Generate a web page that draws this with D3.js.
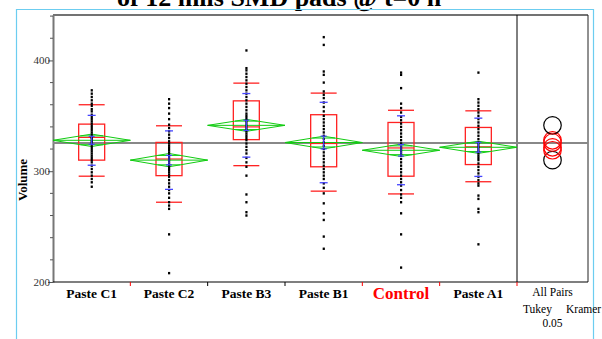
<!DOCTYPE html>
<html>
<head>
<meta charset="utf-8">
<script src="https://cdn.jsdelivr.net/npm/d3@7"></script>
<style>
  html, body { margin: 0; padding: 0; background: #fff; }
  svg { display: block; }
</style>
</head>
<body>
<div id="chart"></div>
<script>
// group names along the x axis
const groups = ["Paste C1", "Paste C2", "Paste B3", "Paste B1", "Control", "Paste A1"];

const volC1 = [373, 370, 367, 364, 361, 359, 356, 354, 351, 349, 347, 345, 343, 341, 339, 337, 335, 333, 331, 330, 329, 327, 326, 324, 322, 320, 318, 316, 314, 312, 310, 308, 305, 302, 299, 296, 293, 290, 286];
const volC2 = [365, 361, 357, 352, 347, 342, 339, 336, 333, 330, 327, 325, 323, 321, 319, 317, 315, 313, 311, 309, 307, 305, 303, 301, 299, 297, 295, 292, 289, 286, 283, 280, 276, 272, 269, 266, 243, 208];
const volB3 = [409, 393, 391, 388, 385, 382, 379, 376, 373, 370, 367, 364, 361, 358, 355, 352, 350, 348, 346, 344, 342, 340, 338, 336, 334, 332, 330, 328, 325, 322, 319, 316, 312, 308, 304, 296, 279, 272, 263, 260];
const volB1 = [421, 414, 390, 387, 380, 372, 369, 366, 362, 358, 354, 350, 347, 344, 341, 338, 335, 332, 329, 326, 323, 320, 317, 314, 311, 308, 305, 302, 299, 296, 293, 289, 285, 280, 271, 262, 256, 241, 230];
const volControl = [389, 387, 375, 361, 357, 353, 349, 346, 343, 340, 337, 334, 331, 328, 325, 322, 320, 318, 316, 314, 311, 308, 305, 302, 299, 296, 293, 290, 287, 283, 279, 276, 272, 262, 243, 213];
const volA1 = [389, 365, 362, 359, 356, 353, 350, 347, 344, 341, 338, 335, 332, 329, 326, 324, 322, 320, 318, 316, 314, 312, 310, 307, 304, 301, 298, 295, 292, 289, 287, 278, 275, 266, 263, 234];
const observations = [volC1, volC2, volB3, volB1, volControl, volA1];

// quantile summaries per group (10%, 25%, 50%, 75%, 90%)
const q10 = [295.5, 272, 305, 282, 279.5, 290.5];
const q25 = [310, 296, 328.5, 304, 295.5, 306];
const q50 = [330.5, 311, 340, 325, 321, 322];
const q75 = [342.5, 326, 363.5, 351, 344, 339.5];
const q90 = [360, 341, 379.5, 370.5, 355, 354.5];

// means, 95% CI half width, std dev, std error
const means = [327.9, 310, 341.4, 325.9, 318.9, 321.6];
const ciHalf = [5.6, 6, 5.4, 5.7, 5.6, 5.5];
const stdDev = [22.5, 26.4, 28.7, 36.3, 31.1, 26.3];
const stdErr = [3.6, 4.3, 4.6, 5.8, 5.2, 4.4];

// grand mean and Tukey-Kramer comparison circles
const grandMean = 325.4;
const circleRadius = [7.9, 7.9, 7.9, 7.9, 7.9, 7.9];
const circleSignif = [false, true, true, false, false, false];

const yTicks = [200, 300, 400];
const yMinorTicks = [220, 240, 260, 280, 320, 340, 360, 380, 420, 440];

const width = 602, height = 339;
const plotLeft = 53, plotRight = 517, circRight = 588, plotTop = 15, plotBottom = 282;

const svg = d3.select("#chart").append("svg")
  .attr("width", width)
  .attr("height", height)
  .style("font-family", "'Liberation Serif', 'Times New Roman', serif");

const x = d3.scaleBand().domain(groups).range([plotLeft, plotRight]).paddingInner(0).paddingOuter(0);
const y = d3.scaleLinear().domain([200, 441]).range([plotBottom, plotTop]);

// title (clipped at top of window)
svg.append("text")
  .attr("x", 117).attr("y", 6)
  .style("font-size", "26px").style("font-weight", "bold")
  .text("of 12 mils SMD pads @ t=0 h");

// outer light blue frame
svg.append("path")
  .attr("d", `M16.5,${height} V9.5 H593.5 V${height}`)
  .attr("fill", "none").attr("stroke", "#6ccdf0").attr("stroke-width", 1.2);

// frame lines
svg.append("line").attr("x1", plotLeft).attr("x2", circRight).attr("y1", plotTop).attr("y2", plotTop)
  .attr("stroke", "#444").attr("stroke-width", 1.5);
svg.append("line").attr("x1", circRight).attr("x2", circRight).attr("y1", plotTop).attr("y2", plotBottom)
  .attr("stroke", "#222").attr("stroke-width", 1);
svg.append("line").attr("x1", plotRight).attr("x2", plotRight).attr("y1", plotTop).attr("y2", plotBottom)
  .attr("stroke", "#000").attr("stroke-width", 1);

// y axis
const yAxis = svg.append("g").attr("transform", `translate(${plotLeft},0)`)
  .call(d3.axisLeft(y).tickValues(yTicks).tickSize(5).tickSizeOuter(0).tickFormat(d3.format("d")));
yAxis.select(".domain").attr("stroke", "#777").attr("stroke-width", 2);
yAxis.selectAll(".tick line").attr("stroke", "#555");
yAxis.selectAll(".tick text")
  .attr("x", -3)
  .style("font-family", "'Liberation Serif', serif")
  .style("font-size", "11px").attr("fill", "#333");
yAxis.selectAll(".minor").data(yMinorTicks).join("line")
  .attr("x1", -3).attr("x2", 0)
  .attr("y1", d => y(d)).attr("y2", d => y(d))
  .attr("stroke", "#555");

svg.append("text")
  .attr("transform", "translate(27,180) rotate(-90)")
  .attr("text-anchor", "middle")
  .style("font-size", "13px").style("font-weight", "bold")
  .text("Volume");

// x axis line and boundary ticks
svg.append("line").attr("x1", plotLeft).attr("x2", circRight).attr("y1", plotBottom).attr("y2", plotBottom)
  .attr("stroke", "#000").attr("stroke-width", 1.2);
const tickColors = ["red", "#000", "#000", "red", "red", "red"];
svg.selectAll(".xtick").data(groups).join("line")
  .attr("x1", d => x(d) + x.bandwidth()).attr("x2", d => x(d) + x.bandwidth())
  .attr("y1", plotBottom).attr("y2", plotBottom + 4)
  .attr("stroke", (d, i) => tickColors[i]);

svg.selectAll(".xlabel").data(groups).join("text")
  .attr("x", d => x(d) + x.bandwidth() / 2)
  .attr("y", d => d === "Control" ? 299 : 297.5)
  .attr("text-anchor", "middle")
  .style("font-size", d => d === "Control" ? "17px" : "13.5px")
  .style("font-weight", "bold")
  .attr("fill", d => d === "Control" ? "#f00" : "#000")
  .text(d => d);

// grand mean line
svg.append("line").attr("x1", plotLeft).attr("x2", circRight)
  .attr("y1", y(grandMean)).attr("y2", y(grandMean))
  .attr("stroke", "#888").attr("stroke-width", 2);

const g = svg.selectAll(".grp").data(groups).join("g")
  .attr("transform", d => `translate(${x(d) + x.bandwidth() / 2},0)`);

// quantile boxes
const boxHalf = 13;
g.append("rect")
  .attr("x", -boxHalf).attr("width", boxHalf * 2)
  .attr("y", (d, i) => y(q75[i])).attr("height", (d, i) => y(q25[i]) - y(q75[i]))
  .attr("fill", "none").attr("stroke", "#f22").attr("stroke-width", 1.3);
g.append("line").attr("x1", -boxHalf).attr("x2", boxHalf)
  .attr("y1", (d, i) => y(q50[i])).attr("y2", (d, i) => y(q50[i]))
  .attr("stroke", "#f22").attr("stroke-width", 1.2);
[q10, q90].forEach(q => {
  g.append("line").attr("x1", -boxHalf).attr("x2", boxHalf)
    .attr("y1", (d, i) => y(q[i])).attr("y2", (d, i) => y(q[i]))
    .attr("stroke", "#f22").attr("stroke-width", 1.3);
});

// means diamonds
const dHalf = x.bandwidth() / 2;
g.append("path")
  .attr("d", (d, i) => `M${-dHalf},${y(means[i])} L0,${y(means[i] + ciHalf[i])} L${dHalf},${y(means[i])} L0,${y(means[i] - ciHalf[i])} Z`)
  .attr("fill", "none").attr("stroke", "#1c1").attr("stroke-width", 1);
g.append("line").attr("x1", -dHalf).attr("x2", dHalf)
  .attr("y1", (d, i) => y(means[i])).attr("y2", (d, i) => y(means[i]))
  .attr("stroke", "#1c1").attr("stroke-width", 1);
[1, -1].forEach(s => {
  const frac = 1 - 1 / Math.SQRT2;
  g.append("line").attr("x1", -dHalf * frac).attr("x2", dHalf * frac)
    .attr("y1", (d, i) => y(means[i] + s * ciHalf[i] / Math.SQRT2))
    .attr("y2", (d, i) => y(means[i] + s * ciHalf[i] / Math.SQRT2))
    .attr("stroke", "#1c1").attr("stroke-width", 1);
});

// data points
g.each(function (d, i) {
  d3.select(this).selectAll("rect.pt").data(observations[i]).join("rect")
    .attr("class", "pt")
    .attr("x", -1).attr("width", 2.2)
    .attr("y", v => y(v) - 1.2).attr("height", 2.4)
    .attr("fill", "#000");
});

// std dev lines and mean error bars
[1, -1].forEach(s => {
  g.append("line").attr("x1", -4).attr("x2", 4)
    .attr("y1", (d, i) => y(means[i] + s * stdDev[i])).attr("y2", (d, i) => y(means[i] + s * stdDev[i]))
    .attr("stroke", "#44f").attr("stroke-width", 1.3);
  g.append("line").attr("x1", -3).attr("x2", 3)
    .attr("y1", (d, i) => y(means[i] + s * stdErr[i])).attr("y2", (d, i) => y(means[i] + s * stdErr[i]))
    .attr("stroke", "#44f").attr("stroke-width", 1.2);
});
g.append("line").attr("x1", 0).attr("x2", 0)
  .attr("y1", (d, i) => y(means[i] + stdErr[i])).attr("y2", (d, i) => y(means[i] - stdErr[i]))
  .attr("stroke", "#44f").attr("stroke-width", 1.2);

// comparison circles
const cx = (plotRight + circRight) / 2;
const pxPerUnit = y(0) - y(1);
svg.selectAll(".circ").data(groups).join("circle")
  .attr("cx", cx)
  .attr("cy", (d, i) => y(means[i]))
  .attr("r", (d, i) => circleRadius[i] * pxPerUnit)
  .attr("fill", "none")
  .attr("stroke", (d, i) => circleSignif[i] ? "#000" : "#f00")
  .attr("stroke-width", 1.2);

// comparison labels
const small = [["All Pairs", cx, 296, "middle"], ["Tukey", 523, 312.5, "start"], ["Kramer", 566, 312.5, "start"], ["0.05", cx, 327, "middle"]];
svg.selectAll(".cmp").data(small).join("text")
  .attr("x", d => d[1]).attr("y", d => d[2])
  .attr("text-anchor", d => d[3])
  .style("font-size", "11.5px")
  .text(d => d[0]);
</script>
</body>
</html>
